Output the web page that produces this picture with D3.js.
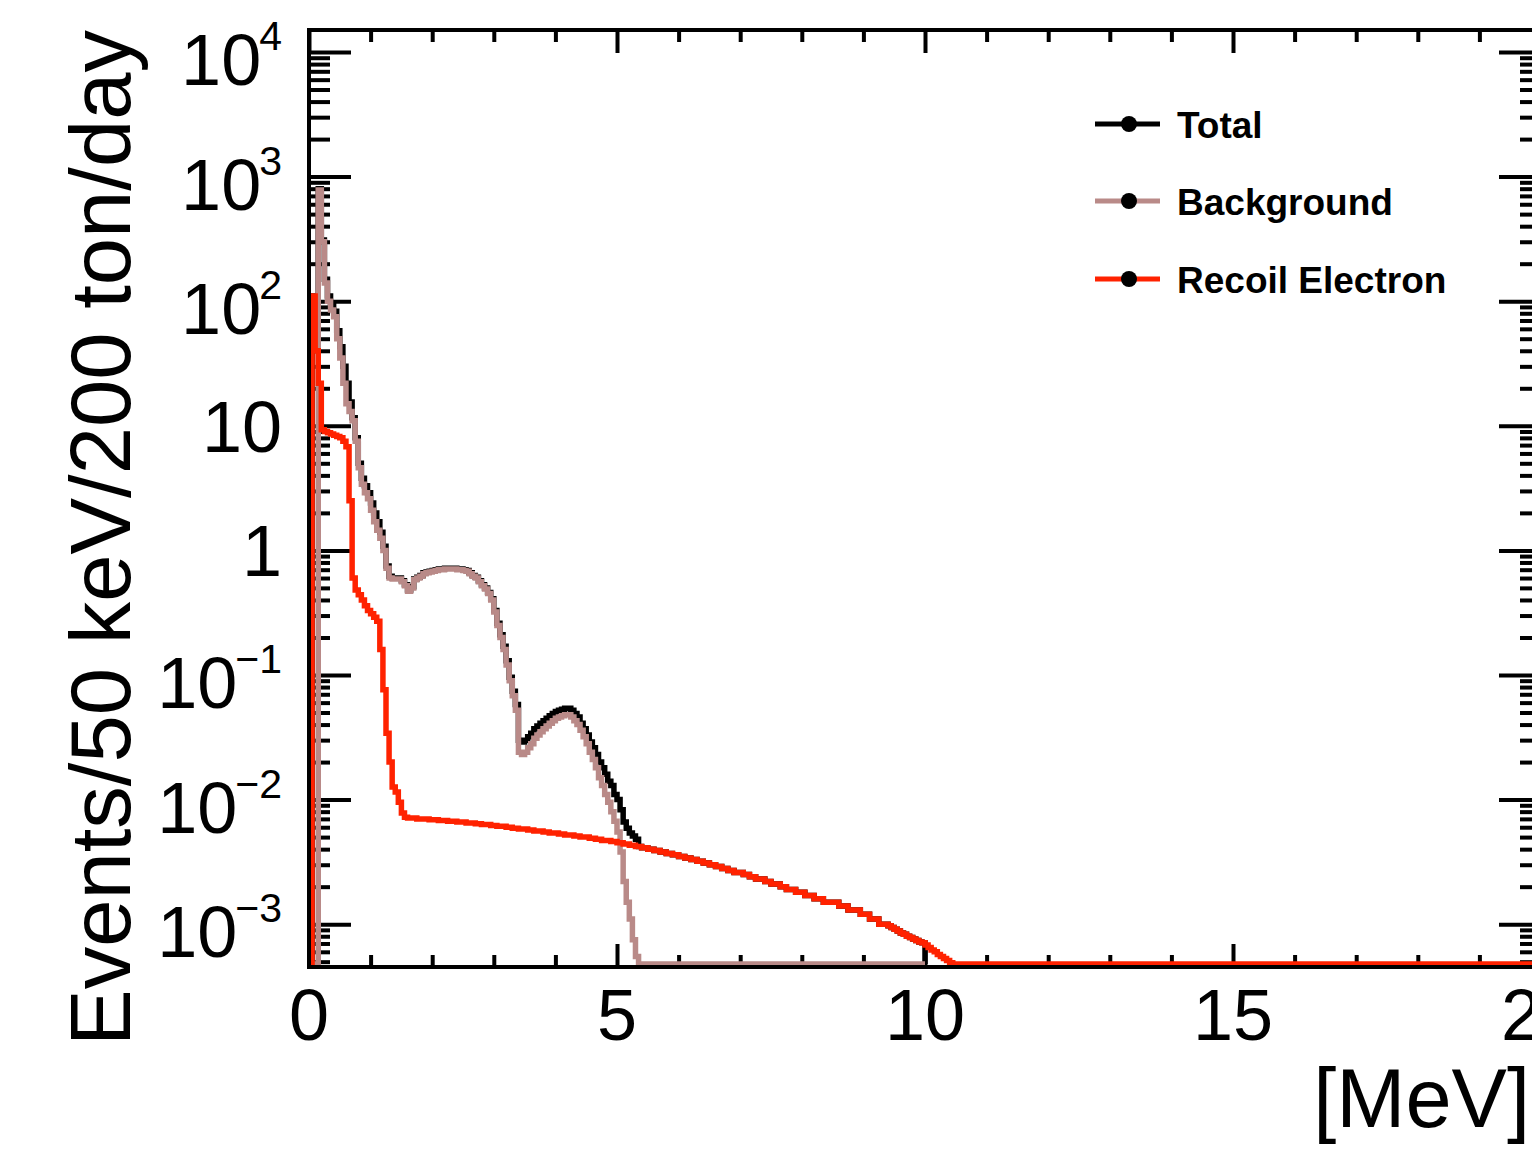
<!DOCTYPE html>
<html><head><meta charset="utf-8">
<script src="https://cdn.jsdelivr.net/npm/d3@7"></script>
<style>html,body{margin:0;padding:0;background:#fff;} svg{display:block;}</style>
</head><body>
<svg id="chart" width="1532" height="1152"></svg>
<script>
// ---------------- data ----------------
const binWidthMeV = 0.05;               // 50 keV bins
const xDomainMeV = [0, 20];
const yDomain = [4.79e-4, 1.502e4];
const xMajorTicks = [0, 5, 10, 15, 20];
const xTickLabels = ["0", "5", "10", "15", "20"];
const yMajorTicks = [1e-3, 1e-2, 1e-1, 1, 10, 1e2, 1e3, 1e4];
const yTickBase = ["10", "10", "10", "1", "10", "10", "10", "10"];
const yTickExponent = ["\u22123", "\u22122", "\u22121", "", "", "2", "3", "4"];
const xTitle = "[MeV]";
const yTitle = "Events/50 keV/200 ton/day";
const seriesNames = ["Total", "Background", "Recoil Electron"];
const seriesColors = ["#000000", "#b98a88", "#ff2200"];
// histogram ranges in MeV; bins past the listed values are empty
const seriesRangeMeV = [10, 10, 20];

const total = [
  0, 110, 40, 800, 310, 150, 110, 94, 83, 58,
  43, 30, 22, 15.5, 11.6, 8.0, 5.0, 3.8, 3.3, 2.9,
  2.4, 2.0, 1.7, 1.4, 1.08, 0.75, 0.62, 0.60, 0.60, 0.60,
  0.57, 0.53, 0.48, 0.51, 0.59, 0.61, 0.63, 0.66, 0.67, 0.68,
  0.69, 0.70, 0.71, 0.71, 0.72, 0.72, 0.72, 0.72, 0.71, 0.71,
  0.70, 0.69, 0.66, 0.63, 0.61, 0.57, 0.53, 0.50, 0.46, 0.41,
  0.33, 0.26, 0.21, 0.17, 0.13, 0.096, 0.074, 0.058, 0.030, 0.029,
  0.030, 0.032, 0.034, 0.037, 0.039, 0.041, 0.043, 0.045, 0.047, 0.049,
  0.051, 0.052, 0.053, 0.054, 0.054, 0.052, 0.049, 0.046, 0.041, 0.037,
  0.033, 0.029, 0.026, 0.023, 0.020, 0.018, 0.016, 0.014, 0.013, 0.011,
  0.010, 0.0083, 0.0066, 0.0059, 0.0054, 0.0051, 0.0048, 0.0042, 0.0041, 0.0041,
  0.0040, 0.0040, 0.0039, 0.0039, 0.0038, 0.0038, 0.0037, 0.0037, 0.0036, 0.0036,
  0.0035, 0.0035, 0.0034, 0.0034, 0.0033, 0.0033, 0.0032, 0.0032, 0.0031, 0.0031,
  0.0030, 0.0030, 0.0029, 0.0029, 0.0028, 0.0028, 0.0027, 0.0027, 0.0026, 0.0026,
  0.0026, 0.0025, 0.0025, 0.0024, 0.0024, 0.0023, 0.0023, 0.0023, 0.0022, 0.0022,
  0.0021, 0.0021, 0.0021, 0.0020, 0.0020, 0.0019, 0.0019, 0.0019, 0.0018, 0.0018,
  0.0018, 0.0017, 0.0017, 0.0017, 0.0016, 0.0016, 0.0016, 0.0015, 0.0015, 0.0015,
  0.0015, 0.0015, 0.0014, 0.0014, 0.0014, 0.0013, 0.0013, 0.0013, 0.0013, 0.0012,
  0.0012, 0.0012, 0.0011, 0.0011, 0.0011, 0.0010, 0.0010, 0.0010, 0.00097, 0.00094,
  0.00091, 0.00088, 0.00085, 0.00083, 0.00080, 0.00078, 0.00076, 0.00074, 0.00072, 0.00071
];

const background = [
  0, 0, 0, 780, 300, 140, 100, 85, 75, 50,
  35, 22, 15, 13, 11, 7.5, 4.6, 3.4, 2.9, 2.6,
  2.1, 1.7, 1.45, 1.25, 1.0, 0.72, 0.60, 0.59, 0.59, 0.59,
  0.56, 0.52, 0.47, 0.50, 0.58, 0.60, 0.62, 0.65, 0.66, 0.67,
  0.68, 0.69, 0.70, 0.70, 0.71, 0.71, 0.71, 0.71, 0.70, 0.70,
  0.69, 0.68, 0.65, 0.62, 0.60, 0.56, 0.52, 0.49, 0.45, 0.40,
  0.32, 0.25, 0.20, 0.16, 0.12, 0.090, 0.068, 0.052, 0.024, 0.023,
  0.024, 0.026, 0.028, 0.031, 0.033, 0.035, 0.037, 0.039, 0.041, 0.043,
  0.045, 0.046, 0.047, 0.048, 0.048, 0.046, 0.043, 0.040, 0.036, 0.032,
  0.028, 0.024, 0.021, 0.018, 0.015, 0.013, 0.011, 0.0095, 0.0080, 0.0067,
  0.0055, 0.0038, 0.0022, 0.0015, 0.0011, 0.00075, 0.00055, 0, 0, 0
];

const recoilElectron = [
  0, 110, 40, 22, 9.3, 9.0, 8.8, 8.6, 8.4, 8.2,
  8.0, 7.5, 6.8, 2.5, 0.60, 0.48, 0.44, 0.40, 0.36, 0.33,
  0.31, 0.29, 0.27, 0.16, 0.076, 0.034, 0.020, 0.0126, 0.0115, 0.0095,
  0.0078, 0.0072, 0.0071, 0.0071, 0.0071, 0.0070, 0.0070, 0.0070, 0.0070, 0.0069,
  0.0069, 0.0069, 0.0068, 0.0068, 0.0068, 0.0067, 0.0067, 0.0067, 0.0066, 0.0066,
  0.0066, 0.0065, 0.0065, 0.0065, 0.0064, 0.0064, 0.0063, 0.0063, 0.0063, 0.0062,
  0.0062, 0.0061, 0.0061, 0.0061, 0.0060, 0.0060, 0.0059, 0.0059, 0.0058, 0.0058,
  0.0058, 0.0057, 0.0057, 0.0056, 0.0056, 0.0056, 0.0055, 0.0055, 0.0054, 0.0054,
  0.0054, 0.0053, 0.0053, 0.0052, 0.0052, 0.0052, 0.0051, 0.0051, 0.0050, 0.0050,
  0.0050, 0.0049, 0.0049, 0.0048, 0.0048, 0.0047, 0.0047, 0.0047, 0.0046, 0.0046,
  0.0045, 0.0045, 0.0044, 0.0044, 0.0043, 0.0043, 0.0042, 0.0042, 0.0041, 0.0041,
  0.0040, 0.0040, 0.0039, 0.0039, 0.0038, 0.0038, 0.0037, 0.0037, 0.0036, 0.0036,
  0.0035, 0.0035, 0.0034, 0.0034, 0.0033, 0.0033, 0.0032, 0.0032, 0.0031, 0.0031,
  0.0030, 0.0030, 0.0029, 0.0029, 0.0028, 0.0028, 0.0027, 0.0027, 0.0026, 0.0026,
  0.0026, 0.0025, 0.0025, 0.0024, 0.0024, 0.0023, 0.0023, 0.0023, 0.0022, 0.0022,
  0.0021, 0.0021, 0.0021, 0.0020, 0.0020, 0.0019, 0.0019, 0.0019, 0.0018, 0.0018,
  0.0018, 0.0017, 0.0017, 0.0017, 0.0016, 0.0016, 0.0016, 0.0015, 0.0015, 0.0015,
  0.0015, 0.0015, 0.0014, 0.0014, 0.0014, 0.0013, 0.0013, 0.0013, 0.0013, 0.0012,
  0.0012, 0.0012, 0.0011, 0.0011, 0.0011, 0.0010, 0.0010, 0.0010, 0.00097, 0.00094,
  0.00091, 0.00088, 0.00085, 0.00083, 0.00080, 0.00078, 0.00076, 0.00074, 0.00072, 0.00071,
  0.00068, 0.00065, 0.00062, 0.00060, 0.00057, 0.00055, 0.00053, 0.00051, 0.00049, 0.00048
];

const seriesValues = [total, background, recoilElectron];

// ---------------- layout ----------------
const FONT = "'Liberation Sans', Arial, Helvetica, sans-serif";
const plot = { left: 309, right: 1541, top: 30, bottom: 967, dataBottom: 964 };

const svg = d3.select("#chart");
svg.append("rect").attr("width", 1532).attr("height", 1152).attr("fill", "#fff");

const x = d3.scaleLinear().domain(xDomainMeV).range([plot.left, plot.right]);
const y = d3.scaleLog().domain(yDomain).range([plot.dataBottom, plot.top]).clamp(true);

// ---------------- ticks (inward, mirrored on all four sides) ----------------
const xMinor = d3.range(0, 21, 1).filter(v => v % 5 !== 0);
const yMinor = [];
for (let k = -4; k <= 4; k++) for (let d = 2; d <= 9; d++) {
  const v = d * Math.pow(10, k);
  if (v > yDomain[0] && v < yDomain[1]) yMinor.push(v);
}

function styleAxis(g) {
  g.select(".domain").remove();
  g.selectAll(".tick line").attr("stroke", "#000").attr("stroke-width", 4);
  g.selectAll(".tick text").remove();
}
const axes = svg.append("g");
axes.append("g").attr("transform", `translate(0,${plot.bottom})`)
  .call(d3.axisBottom(x).tickValues(xMajorTicks).tickSize(-23)).call(styleAxis);
axes.append("g").attr("transform", `translate(0,${plot.bottom})`)
  .call(d3.axisBottom(x).tickValues(xMinor).tickSize(-12)).call(styleAxis);
axes.append("g").attr("transform", `translate(0,${plot.top})`)
  .call(d3.axisTop(x).tickValues(xMajorTicks).tickSize(-23)).call(styleAxis);
axes.append("g").attr("transform", `translate(0,${plot.top})`)
  .call(d3.axisTop(x).tickValues(xMinor).tickSize(-12)).call(styleAxis);
axes.append("g").attr("transform", `translate(${plot.left},0)`)
  .call(d3.axisLeft(y).tickValues(yMajorTicks).tickSize(-42)).call(styleAxis);
axes.append("g").attr("transform", `translate(${plot.left},0)`)
  .call(d3.axisLeft(y).tickValues(yMinor).tickSize(-21)).call(styleAxis);
axes.append("g").attr("transform", `translate(${plot.right},0)`)
  .call(d3.axisRight(y).tickValues(yMajorTicks).tickSize(-42)).call(styleAxis);
axes.append("g").attr("transform", `translate(${plot.right},0)`)
  .call(d3.axisRight(y).tickValues(yMinor).tickSize(-21)).call(styleAxis);

// ---------------- histograms ----------------
svg.append("clipPath").attr("id", "plotClip").append("rect")
  .attr("x", plot.left).attr("y", plot.top)
  .attr("width", plot.right - plot.left).attr("height", plot.bottom - plot.top);

function histPath(values, rangeMeV) {
  const nBins = Math.round(rangeMeV / binWidthMeV);
  const yb = y.range()[0];
  const yOf = v => (v > 0 ? y(v) : yb);
  const p = d3.path();
  p.moveTo(x(0), yb);
  for (let i = 0; i < nBins; i++) {
    const v = i < values.length ? values[i] : 0;
    const yy = yOf(v);
    p.lineTo(x(i * binWidthMeV), yy);
    p.lineTo(x((i + 1) * binWidthMeV), yy);
  }
  p.lineTo(x(rangeMeV), yb);
  return p.toString();
}

const hg = svg.append("g").attr("clip-path", "url(#plotClip)");
seriesValues.forEach((vals, i) => {
  hg.append("path")
    .attr("d", histPath(vals, seriesRangeMeV[i]))
    .attr("fill", "none")
    .attr("stroke", seriesColors[i])
    .attr("stroke-width", 5.5)
    .attr("stroke-linejoin", "miter");
});

// ---------------- frame ----------------
svg.append("rect")
  .attr("x", plot.left).attr("y", plot.top)
  .attr("width", plot.right - plot.left).attr("height", plot.bottom - plot.top)
  .attr("fill", "none").attr("stroke", "#000").attr("stroke-width", 4);

// ---------------- tick labels ----------------
svg.append("g").selectAll("text").data(xMajorTicks).join("text")
  .attr("x", d => x(d)).attr("y", 1040)
  .attr("text-anchor", "middle")
  .attr("font-family", FONT).attr("font-size", 72)
  .text((d, i) => xTickLabels[i]);

const yl = svg.append("g");
yMajorTicks.forEach((v, i) => {
  const hasExp = yTickExponent[i] !== "";
  const t = yl.append("text")
    .attr("x", 282).attr("y", y(v) + (hasExp ? 33 : 26))
    .attr("text-anchor", "end")
    .attr("font-family", FONT).attr("font-size", 72);
  t.append("tspan").text(yTickBase[i]);
  if (hasExp) {
    t.append("tspan").attr("dy", -35).attr("dx", -2).attr("font-size", 41).text(yTickExponent[i]);
  }
});

// ---------------- axis titles ----------------
svg.append("text")
  .attr("transform", `translate(130,${plot.top}) rotate(-90)`)
  .attr("text-anchor", "end")
  .attr("font-family", FONT).attr("font-size", 85)
  .text(yTitle);

svg.append("text")
  .attr("x", 1530).attr("y", 1127)
  .attr("text-anchor", "end")
  .attr("font-family", FONT).attr("font-size", 83)
  .text(xTitle);

// ---------------- legend ----------------
const legendY = [124, 201, 279];
const lg = svg.append("g");
seriesNames.forEach((name, i) => {
  const gy = legendY[i];
  lg.append("line").attr("x1", 1095).attr("x2", 1160).attr("y1", gy).attr("y2", gy)
    .attr("stroke", seriesColors[i]).attr("stroke-width", 5);
  lg.append("circle").attr("cx", 1129).attr("cy", gy).attr("r", 8).attr("fill", "#000");
  lg.append("text").attr("x", 1177).attr("y", gy + 14)
    .attr("font-family", FONT).attr("font-size", 37).attr("font-weight", "bold")
    .text(name);
});
</script>
</body></html>
